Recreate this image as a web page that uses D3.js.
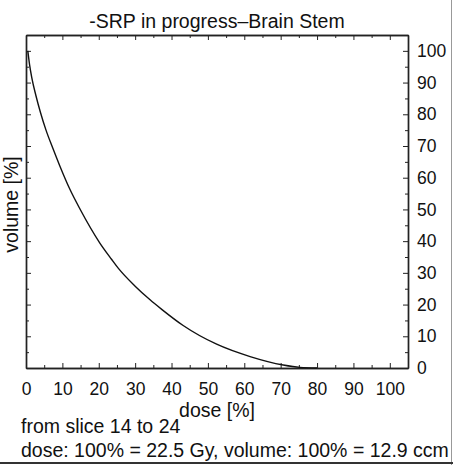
<!DOCTYPE html>
<html>
<head>
<meta charset="utf-8">
<script src="https://cdn.jsdelivr.net/npm/d3@7"></script>
<style>
  body { margin: 0; background: #fff; }
  svg { display: block; font-family: "Liberation Sans", Arial, Helvetica, sans-serif; }
</style>
</head>
<body>
<div id="chart-area"></div>
<script>
// DVH curve
let doseVals = [0.5, 1.0, 1.6, 2.7, 4.0, 5.5, 7.3, 9.3, 12.0, 14.8, 20.3, 23.5, 25.4, 30.0, 34.1, 37.3, 43.2, 52.4, 61.6, 70.7, 75.3, 80];
let volumeVals = [100, 95.5, 91.5, 86.0, 80.5, 75.0, 69.5, 63.7, 56.5, 50.2, 39.4, 34.3, 31.4, 25.8, 21.5, 18.5, 13.4, 7.5, 3.6, 0.95, 0.2, 0];

let xTicks = [0, 10, 20, 30, 40, 50, 60, 70, 80, 90, 100];
let yTicks = [0, 10, 20, 30, 40, 50, 60, 70, 80, 90, 100];
let minorTicks = [5, 15, 25, 35, 45, 55, 65, 75, 85, 95, 105];

let title = "-SRP in progress\u2013Brain Stem";
let xLabel = "dose [%]";
let yLabel = "volume [%]";
let note1 = "from slice 14 to 24";
let note2 = "dose: 100% = 22.5 Gy, volume: 100% = 12.9 ccm";

let W = 453, H = 465;
let margin = { top: 35, right: 45, bottom: 97, left: 26 };
let width = W - margin.left - margin.right,
    height = H - margin.top - margin.bottom;

let textSize = "19.5px";
let tickSize = "17.5px";

let svgRoot = d3.select("#chart-area").append("svg")
    .attr("width", W)
    .attr("height", H);

// page edges
svgRoot.append("line")
    .attr("x1", 451.5).attr("x2", 451.5).attr("y1", 0).attr("y2", H)
    .attr("stroke", "#999").attr("stroke-width", 1);
svgRoot.append("line")
    .attr("x1", 0).attr("x2", W).attr("y1", 463).attr("y2", 463)
    .attr("stroke", "#333").attr("stroke-width", 2);

let svg = svgRoot.append("g")
    .attr("transform", "translate(" + margin.left + "," + margin.top + ")");

let x = d3.scaleLinear().domain([0, 105]).range([0, width]);
let y = d3.scaleLinear().domain([0, 105]).range([height, 0]);

let ink = "#222";

// axes: ticks point inward
svg.append("g").attr("class", "x-axis")
    .attr("transform", "translate(0," + height + ")")
    .call(d3.axisBottom(x).tickValues(xTicks).tickSizeInner(-5).tickSizeOuter(0).tickPadding(14.5));
svg.append("g")
    .attr("transform", "translate(0," + height + ")")
    .call(d3.axisBottom(x).tickValues(minorTicks).tickSizeInner(-3).tickSizeOuter(0).tickFormat(""));
svg.append("g")
    .call(d3.axisTop(x).tickValues(xTicks).tickSizeInner(-5).tickSizeOuter(0).tickFormat(""));
svg.append("g")
    .call(d3.axisTop(x).tickValues(minorTicks).tickSizeInner(-3).tickSizeOuter(0).tickFormat(""));
svg.append("g")
    .call(d3.axisLeft(y).tickValues(yTicks).tickSizeInner(-5).tickSizeOuter(0).tickFormat(""));
svg.append("g")
    .call(d3.axisLeft(y).tickValues(minorTicks).tickSizeInner(-3).tickSizeOuter(0).tickFormat(""));
svg.append("g").attr("class", "y-axis")
    .attr("transform", "translate(" + width + ",0)")
    .call(d3.axisRight(y).tickValues(yTicks).tickSizeInner(-5).tickSizeOuter(0).tickPadding(9));
svg.append("g")
    .attr("transform", "translate(" + width + ",0)")
    .call(d3.axisRight(y).tickValues(minorTicks).tickSizeInner(-3).tickSizeOuter(0).tickFormat(""));

svg.selectAll(".domain").attr("stroke", ink).attr("stroke-width", 1.4);
svg.selectAll(".tick line").attr("stroke", ink).attr("stroke-width", 1);
svg.selectAll(".tick text")
    .attr("fill", "#111")
    .style("font-size", tickSize)
    .style("font-family", "\"Liberation Sans\", Arial, sans-serif");

// curve
let pts = doseVals.map((d, i) => [d, volumeVals[i]]);
svg.append("path")
    .datum(pts)
    .attr("fill", "none")
    .attr("stroke", "#111")
    .attr("stroke-width", 1.4)
    .attr("d", d3.line()
        .curve(d3.curveMonotoneX)
        .x(d => x(d[0]))
        .y(d => y(d[1])));

// texts
svg.append("text")
    .attr("x", width / 2).attr("y", -7)
    .attr("text-anchor", "middle")
    .attr("fill", "#111")
    .style("font-size", textSize)
    .text(title);

svg.append("text")
    .attr("x", width / 2).attr("y", height + 48.5)
    .attr("text-anchor", "middle")
    .attr("fill", "#111")
    .style("font-size", textSize)
    .text(xLabel);

svg.append("text")
    .attr("transform", "translate(-8," + (height / 2 + 3) + ") rotate(-90)")
    .attr("text-anchor", "middle")
    .attr("fill", "#111")
    .style("font-size", textSize)
    .text(yLabel);

svgRoot.append("text")
    .attr("x", 21).attr("y", 433)
    .attr("fill", "#111")
    .style("font-size", textSize)
    .text(note1);

svgRoot.append("text")
    .attr("x", 21).attr("y", 457)
    .attr("fill", "#111")
    .style("font-size", textSize)
    .text(note2);
</script>
</body>
</html>
